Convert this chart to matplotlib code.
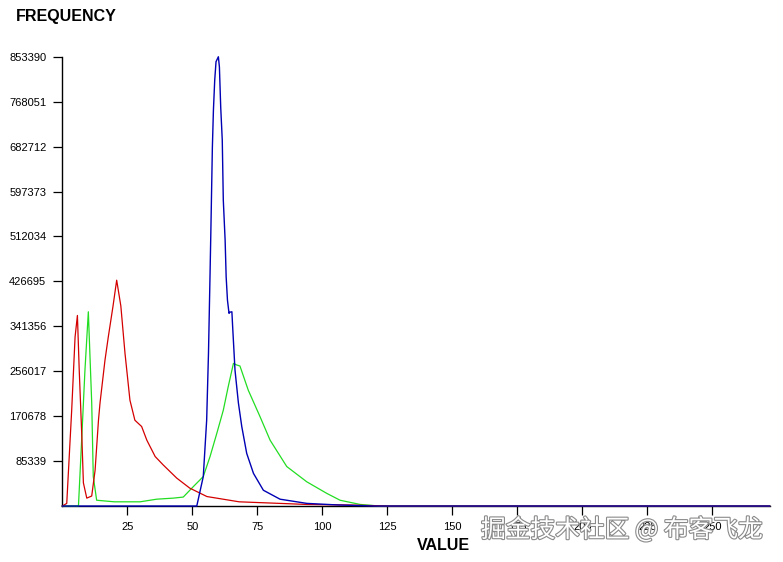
import matplotlib.pyplot as plt
import matplotlib.patheffects as pe

plt.rcParams['font.family'] = ['Liberation Sans', 'DejaVu Sans']

# histogram points (pixel value, count)
red_v = [0, 1.7, 3.6, 4.9, 5.8, 6.5, 7.5, 8.1, 9.4, 11.3, 12.6, 13.9, 14.5, 16.4, 17.7,
         19.5, 20.9, 22.5, 24.1, 26, 27.9, 30.5, 32.5, 35.7, 38.8, 44, 49, 55.6, 68, 94,
         110, 125, 272]
red_f = [0, 5000, 182000, 321000, 362000, 258000, 132000, 44000, 15000, 19000, 68000,
         163000, 196000, 277000, 322000, 380000, 429000, 380000, 290000, 201000, 163000,
         151000, 125000, 94000, 78000, 53000, 34000, 18000, 8000, 3000, 2000, 0, 0]

green_v = [0, 6.2, 7.5, 8.7, 10, 11.3, 11.9, 13.2, 20, 29.9, 36.3, 42.7, 46.5, 50.4,
           54.2, 56.8, 59.4, 61.9, 63.8, 65.8, 67, 68.3, 71.5, 76, 79.9, 86.3, 94,
           101.7, 106.8, 114.5, 122, 272]
green_f = [0, 0, 132000, 258000, 369000, 196000, 56000, 11000, 8000, 8000, 13000, 15000,
           17000, 37000, 56000, 94000, 138000, 182000, 227000, 271000, 268000, 266000,
           220000, 170000, 125000, 75000, 46000, 24000, 11000, 3000, 0, 0]

blue_v = [0, 51.7, 54.2, 55.5, 56.2, 56.8, 57.1, 57.4, 57.7, 58.1, 58.6, 59.1, 60,
          60.4, 60.9, 61.5, 61.9, 62.6, 63, 63.5, 64.1, 64.3, 65.2, 65.5, 66.4, 67.7,
          69, 70.9, 73.5, 77.3, 83.7, 94, 106, 120, 272]
blue_f = [0, 0, 56000, 163000, 290000, 440000, 518000, 600000, 682000, 752000, 809000,
          844000, 853390, 834000, 758000, 695000, 581000, 505000, 435000, 391000, 366000,
          368000, 369000, 340000, 258000, 196000, 151000, 100000, 62000, 30000, 13000,
          5000, 2000, 0, 0]

y_ticks = [85339, 170678, 256017, 341356, 426695, 512034, 597373, 682712, 768051, 853390]
x_ticks = [25, 50, 75, 100, 125, 150, 175, 200, 225, 250]

fig = plt.figure(figsize=(7.83, 5.62), dpi=100)
ax = fig.add_axes([0.0796, 0.0996, 0.9034, 0.7994])

ax.plot(green_v, green_f, color='#22dd22', lw=0.9, zorder=3, clip_on=False)
ax.plot(red_v, red_f, color='#d40000', lw=0.9, zorder=3, clip_on=False)
ax.plot(blue_v, blue_f, color='#0000b4', lw=1.0, zorder=3, clip_on=False)

ax.set_xlim(0, 272)
ax.set_ylim(0, 853390)
ax.set_xticks(x_ticks)
ax.set_yticks(y_ticks)
ax.tick_params(axis='both', direction='out', length=6.5, width=0.9, labelsize=8, pad=5)
ax.spines['top'].set_visible(False)
ax.spines['right'].set_visible(False)
ax.spines['left'].set_linewidth(1.0)
ax.spines['bottom'].set_linewidth(1.0)

fig.text(16 / 783, 1 - 16 / 562, 'FREQUENCY', fontsize=11.5, fontweight='bold',
         ha='left', va='center')
fig.text(443 / 783, 1 - 546 / 562, 'VALUE', fontsize=11.5, fontweight='bold',
         ha='center', va='center')

# watermark
fig.text(622 / 783, 1 - 530 / 562, '掘金技术社区 @ 布客飞龙', fontsize=17.8,
         family=['Noto Sans CJK SC', 'DejaVu Sans'], color='white', ha='center', va='center',
         path_effects=[pe.withStroke(linewidth=1.6, foreground='#8a8a8a')])

fig.savefig('out.png', dpi=100)
